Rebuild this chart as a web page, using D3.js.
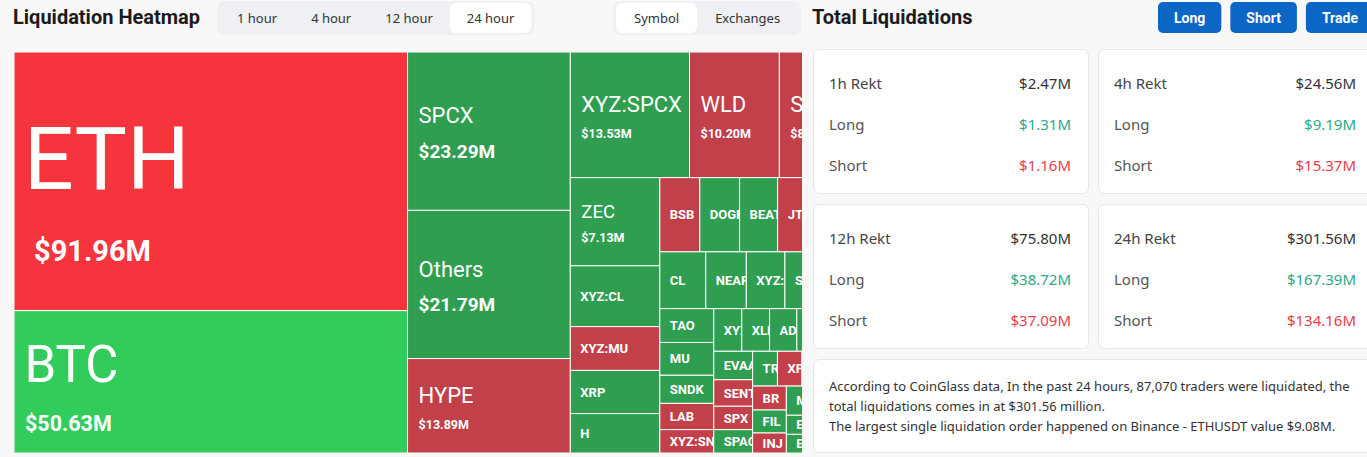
<!DOCTYPE html>
<html>
<head>
<meta charset="utf-8">
<script src="https://cdn.jsdelivr.net/npm/d3@7"></script>
<style>
  html, body { margin: 0; padding: 0; background: #f8f8f8; overflow: hidden; }
  svg { display: block; }
  .title { font-family: Roboto, sans-serif; font-weight: 700; font-size: 20px; fill: #1b1b1b; }
  .tab { font-family: "Noto Sans", sans-serif; font-size: 13px; fill: #333; }
  .btn { font-family: Roboto, sans-serif; font-weight: 700; font-size: 14px; fill: #fff; }
  .card-label { font-family: "Noto Sans", sans-serif; font-size: 15px; fill: #4d4d4d; }
  .card-value { font-family: "Noto Sans", sans-serif; font-size: 15px; fill: #333; }
  .summary { font-family: "Noto Sans", sans-serif; font-size: 13px; fill: #333; }
  .cell-name, .cell-value { font-family: Roboto, sans-serif; fill: #fff; }
</style>
</head>
<body>
<svg id="chart"></svg>
<script>
// treemap data, sorted by liquidation amount (USD millions)
let coins = ["ETH", "BTC", "SPCX", "Others", "HYPE", "XYZ:SPCX", "WLD", "SOL", "ZEC", "XYZ:CL",
    "XYZ:MU", "XRP", "H", "BSB", "DOGE", "BEAT", "JTO", "PUMP", "CL", "NEAR",
    "XYZ:INTC", "SUI", "AVAX", "TAO", "MU", "SNDK", "LAB", "XYZ:SNDK", "XYZ:NVDA", "XLM",
    "ADA", "LINK", "BNB", "EVAA", "SENT", "SPX", "SPAC", "TRX", "XPL", "PENGU",
    "ASTER", "BR", "FIL", "INJ", "MON", "PEPE", "ARB", "ENA", "ETC", "UNI", "OP", "APT"];
let amounts = [91.96, 50.63, 23.29, 21.79, 13.89, 13.53, 10.20, 8.02, 7.13, 4.92,
    3.54, 3.49, 3.19, 2.68, 2.67, 2.55, 2.45, 2.40, 2.36, 2.08,
    1.98, 1.68, 1.66, 1.65, 1.60, 1.37, 1.28, 1.14, 1.08, 1.07,
    1.05, 1.03, 1.02, 1.00, 0.93, 0.82, 0.82, 0.78, 0.77, 0.76,
    0.75, 0.73, 0.70, 0.61, 0.60, 0.58, 0.50, 0.49, 0.48, 0.47, 0.40, 0.33];
let trend = ["down", "up", "up", "up", "down", "up", "down", "down", "up", "up",
    "down", "up", "up", "down", "up", "up", "down", "up", "up", "up",
    "up", "up", "down", "up", "up", "up", "down", "down", "up", "up",
    "up", "up", "down", "up", "down", "down", "up", "up", "down", "up",
    "down", "down", "up", "down", "up", "down", "up", "up", "up", "down", "up", "down"];

// header controls
let timeTabs = ["1 hour", "4 hour", "12 hour", "24 hour"];
let viewTabs = ["Symbol", "Exchanges"];
let actionButtons = ["Long", "Short", "Trade"];

// total liquidations cards
let rektPeriods = ["1h Rekt", "4h Rekt", "12h Rekt", "24h Rekt"];
let rektTotal = ["$2.47M", "$24.56M", "$75.80M", "$301.56M"];
let rektLong = ["$1.31M", "$9.19M", "$38.72M", "$167.39M"];
let rektShort = ["$1.16M", "$15.37M", "$37.09M", "$134.16M"];
let summaryLines = [
    "According to CoinGlass data, In the past 24 hours, 87,070 traders were liquidated, the",
    "total liquidations comes in at $301.56 million.",
    "The largest single liquidation order happened on Binance - ETHUSDT value $9.08M."
];

let w = 1367;
let h = 457;

let svg = d3.select("#chart")
    .attr("width", w)
    .attr("height", h);

// ---------- header ----------
svg.append("text").attr("class", "title").attr("x", 13).attr("y", 24).text("Liquidation Heatmap");
svg.append("text").attr("class", "title").attr("x", 812).attr("y", 24).text("Total Liquidations");

function drawTabs(labels, selected, x0, pad) {
    let g = svg.append("g");
    let bg = g.append("rect")
        .attr("y", 1).attr("height", 34).attr("rx", 7)
        .attr("fill", "#eef0f3");
    let x = x0 + 3;
    labels.forEach(label => {
        let pill = g.append("rect")
            .attr("y", 3).attr("height", 30).attr("rx", 6)
            .attr("fill", label === selected ? "#fff" : "none");
        let t = g.append("text").attr("class", "tab").attr("y", 23).text(label);
        let tw = t.node().getComputedTextLength();
        let cw = tw + pad * 2;
        pill.attr("x", x).attr("width", cw);
        t.attr("x", x + cw / 2).attr("text-anchor", "middle");
        x += cw;
    });
    bg.attr("x", x0).attr("width", x - x0 + 3);
}
drawTabs(timeTabs, "24 hour", 217, 17);
drawTabs(viewTabs, "Symbol", 613, 18);

let bx = 1158;
actionButtons.forEach(label => {
    let g = svg.append("g");
    let r = g.append("rect").attr("y", 2).attr("height", 31).attr("rx", 5).attr("fill", "#0b66c5");
    let t = g.append("text").attr("class", "btn").attr("y", 22.5).attr("text-anchor", "middle").text(label);
    let bw = t.node().getComputedTextLength() + 32;
    r.attr("x", bx).attr("width", bw);
    t.attr("x", bx + bw / 2);
    bx += bw + 9;
});

// ---------- treemap ----------
let mapX = 14, mapY = 52, mapW = 836, mapH = 401, visibleW = 788;

let root = d3.hierarchy({ children: coins.map((name, i) => ({ name: name, value: amounts[i], dir: trend[i] })) })
    .sum(d => d.value)
    .sort((a, b) => b.value - a.value);

d3.treemap()
    .tile(d3.treemapSquarify)
    .size([mapW, mapH])(root);

let leaves = root.leaves();

let strong = d3.scaleOrdinal().domain(["up", "down"]).range(["#31cc5a", "#f5343d"]);
let muted = d3.scaleOrdinal().domain(["up", "down"]).range(["#2f9e50", "#c1404a"]);
let cellColor = d => d.value >= 40 ? strong(d.data.dir) : muted(d.data.dir);

let nameSize = d3.scaleThreshold().domain([5, 8, 40, 80]).range([13, 18.5, 22, 51, 88]);
let valueSize = d3.scaleThreshold().domain([20, 40, 80]).range([12.5, 19, 21.5, 29]);

svg.append("clipPath").attr("id", "mapclip")
    .append("rect").attr("width", visibleW).attr("height", mapH);

let mapG = svg.append("g")
    .attr("transform", `translate(${mapX},${mapY})`)
    .attr("clip-path", "url(#mapclip)");

let cell = mapG.selectAll("g.cell")
    .data(leaves)
    .join("g")
    .attr("class", "cell")
    .attr("transform", d => `translate(${d.x0},${d.y0})`);

cell.append("clipPath")
    .attr("id", d => "cell" + leaves.indexOf(d))
    .append("rect")
    .attr("width", d => d.x1 - d.x0)
    .attr("height", d => d.y1 - d.y0);

cell.append("rect")
    .attr("width", d => d.x1 - d.x0)
    .attr("height", d => d.y1 - d.y0)
    .attr("fill", cellColor)
    .attr("stroke", "#fff")
    .attr("stroke-width", 1);

// drop characters that start past the cell's edge (the rest is clipped)
function trimToCell(text, room) {
    let node = text.node();
    let s = text.text();
    while (s.length > 1 && node.getSubStringLength(0, s.length - 1) > room) {
        s = s.slice(0, -1);
        text.text(s);
    }
}

let labels = cell.filter(d => d.y1 - d.y0 > 14 && d.x1 - d.x0 > 10 && d.x0 < visibleW - 4)
    .append("g")
    .attr("clip-path", d => `url(#cell${leaves.indexOf(d)})`);

labels.each(function(d) {
    let g = d3.select(this);
    let cw = Math.min(d.x1, visibleW) - d.x0, ch = d.y1 - d.y0;
    let cy = ch / 2;
    if (d.value >= 5) {
        // big cells: name + amount, block centred vertically
        let ns = nameSize(d.value), vs = valueSize(d.value);
        let gap = 0.45 * vs + 0.1 * ns;
        let blockH = 1.2 * ns + gap + 1.2 * vs;
        let top = cy - blockH / 2 + 0.07 * ns;
        let nx = 11 - Math.max(0, ns - 23) * 0.02;
        let vx = 11 + Math.max(0, vs - 21.5) * 1.2;
        let t1 = g.append("text").attr("class", "cell-name")
            .attr("x", nx)
            .attr("y", top + 0.94 * ns)
            .attr("font-size", ns)
            .text(d.data.name);
        let t2 = g.append("text").attr("class", "cell-value")
            .attr("x", vx)
            .attr("y", top + 1.2 * ns + gap + 0.94 * vs)
            .attr("font-size", vs)
            .attr("font-weight", 700)
            .text("$" + d3.format(".2f")(d.data.value) + "M");
        trimToCell(t1, cw - nx);
        trimToCell(t2, cw - vx);
    } else {
        let t = g.append("text").attr("class", "cell-name")
            .attr("x", 10)
            .attr("y", cy + 4.6)
            .attr("font-size", 13)
            .attr("font-weight", 700)
            .text(d.data.name);
        trimToCell(t, cw - 10);
    }
});

// ---------- total liquidations cards ----------
let cardW = 275, cardH = 144;
let cards = rektPeriods.map((p, i) => ({
    rows: [[p, rektTotal[i], "#333"], ["Long", rektLong[i], "#2aaa8a"], ["Short", rektShort[i], "#e83e50"]],
    x: 813 + (i % 2) * (cardW + 10),
    y: 49 + Math.floor(i / 2) * (cardH + 11)
}));

let card = svg.selectAll("g.card")
    .data(cards)
    .join("g")
    .attr("class", "card")
    .attr("transform", d => `translate(${d.x},${d.y})`);

card.append("rect")
    .attr("x", 0.5).attr("y", 0.5)
    .attr("width", cardW).attr("height", cardH)
    .attr("rx", 6)
    .attr("fill", "#fff")
    .attr("stroke", "#e6e6e6");

card.selectAll("g.row")
    .data(d => d.rows)
    .join("g")
    .attr("class", "row")
    .attr("transform", (r, i) => `translate(0,${40 + i * 41})`)
    .each(function(r, i) {
        let g = d3.select(this);
        g.append("text").attr("class", "card-label").attr("x", 16)
            .style("fill", i === 0 ? "#444" : "#555").text(r[0]);
        g.append("text").attr("class", "card-value").attr("x", cardW - 17)
            .attr("text-anchor", "end").style("fill", r[2]).text(r[1]);
    });

let sumG = svg.append("g").attr("transform", "translate(813,359)");
sumG.append("rect")
    .attr("x", 0.5).attr("y", 0.5)
    .attr("width", 560).attr("height", 93)
    .attr("rx", 6)
    .attr("fill", "#fff")
    .attr("stroke", "#e6e6e6");
sumG.selectAll("text")
    .data(summaryLines)
    .join("text")
    .attr("class", "summary")
    .attr("x", 16)
    .attr("y", (d, i) => 32 + i * 20)
    .text(d => d);
</script>
</body>
</html>
